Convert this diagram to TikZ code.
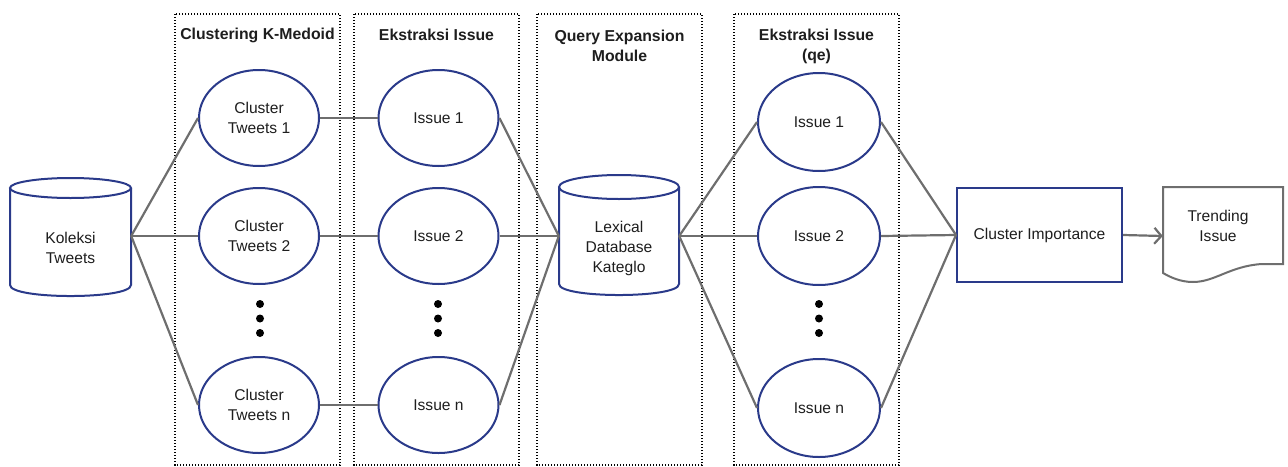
\documentclass[tikz,border=0pt]{standalone}
\usepackage{fontspec}
\setmainfont{Liberation Sans}
\usetikzlibrary{shapes.geometric,arrows.meta}
\definecolor{nodeblue}{RGB}{42,58,138}
\definecolor{linegray}{RGB}{110,110,110}
\definecolor{txtcol}{RGB}{30,30,30}
\tikzset{
  x=1pt, y=-1pt,
  every node/.style={font=\fontsize{15.6}{20}\selectfont, text=txtcol, align=center},
  ell/.style={ellipse, draw=nodeblue, line width=2pt, minimum width=120pt, minimum height=96pt, inner sep=0pt, fill=white},
  conn/.style={draw=linegray, line width=2.2pt},
  grp/.style={draw=black, line width=1.4pt, dash pattern=on 1.4pt off 1.6pt},
  grptitle/.style={font=\bfseries\fontsize{15.8}{20}\selectfont},
  cylbox/.style={draw=none, inner sep=0pt},
  cyl/.style={draw=nodeblue, line width=2pt, fill=white},
  dotmark/.style={fill=black}
}
\begin{document}
\begin{tikzpicture}
\useasboundingbox (0,0) rectangle (1288,466);

% group boxes
\draw[grp] (175,14) rectangle (340,465);
\draw[grp] (354,14) rectangle (519,465);
\draw[grp] (537,14) rectangle (702,465);
\draw[grp] (734,14) rectangle (899,465);
\node[grptitle] (t1) at (257.5,35) {Clustering K-Medoid};
\node[grptitle] (t2) at (436.5,35) {Ekstraksi Issue};
\node[grptitle] (t3) at (619.5,46) {Query Expansion\\Module};
\node[grptitle] (t4) at (816.5,46) {Ekstraksi Issue\\(qe)};

% cylinder Koleksi Tweets
\node[cylbox, minimum width=121pt, minimum height=118pt] (kol) at (70.5,236) {};
\draw[cyl] (10,188) -- (10,285) .. controls (10,299.7) and (131,299.7) .. (131,285) -- (131,188);
\draw[cyl] (70.5,188) ellipse [x radius=60.5, y radius=10];
\node (kolt) at (70.5,248) {Koleksi\\Tweets};

% cylinder Lexical Database
\node[cylbox, minimum width=120pt, minimum height=120pt] (lex) at (619,236) {};
\draw[cyl] (559,187) -- (559,284) .. controls (559,298.7) and (679,298.7) .. (679,284) -- (679,187);
\draw[cyl] (619,187) ellipse [x radius=60, y radius=12];
\node (lext) at (619,248) {Lexical\\Database\\Kateglo};

% ellipses column 1
\node[ell] (c1) at (259,118) {Cluster\\Tweets 1};
\node[ell] (c2) at (259,236) {Cluster\\Tweets 2};
\node[ell] (cn) at (259,405) {Cluster\\Tweets n};
% ellipses column 2
\node[ell] (i1) at (438.5,118) {Issue 1};
\node[ell] (i2) at (438.5,236) {Issue 2};
\node[ell] (in) at (438.5,405) {Issue n};
% ellipses column 4
\node[ell, minimum width=122pt, minimum height=98pt] (q1) at (819,122) {Issue 1};
\node[ell, minimum width=122pt, minimum height=98pt] (q2) at (819,236) {Issue 2};
\node[ell, minimum width=122pt, minimum height=98pt] (qn) at (819,408) {Issue n};

% dots
\foreach \xx in {260,438,819} {
  \fill[dotmark] (\xx,304) circle (4pt);
  \fill[dotmark] (\xx,318.5) circle (4pt);
  \fill[dotmark] (\xx,333) circle (4pt);
}

% cluster importance
\node[draw=nodeblue, line width=2pt, minimum width=165pt, minimum height=94pt, inner sep=0pt] (ci) at (1039.5,235) {Cluster Importance};

% trending issue document
\node[inner sep=0pt, minimum width=120pt, minimum height=96pt] (tr) at (1223,236) {};
\draw[draw=linegray, line width=2pt, fill=white] (1163,187) -- (1283,187) -- (1283,264) -- (1262,264)
  .. controls (1230,266) and (1215,282) .. (1193,282)
  .. controls (1180,282) and (1170,277) .. (1163,273) -- cycle;
\node (trt) at (1218,226) {Trending\\Issue};

% connectors
\draw[conn] (kol.east) -- (c1.west);
\draw[conn] (kol.east) -- (c2.west);
\draw[conn] (kol.east) -- (cn.west);
\draw[conn] (c1.east) -- (i1.west);
\draw[conn] (c2.east) -- (i2.west);
\draw[conn] (cn.east) -- (in.west);
\draw[conn] (i1.east) -- (lex.west);
\draw[conn] (i2.east) -- (lex.west);
\draw[conn] (in.east) -- (lex.west);
\draw[conn] (lex.east) -- (q1.west);
\draw[conn] (lex.east) -- (q2.west);
\draw[conn] (lex.east) -- (qn.west);
\draw[conn] (q1.east) -- (ci.west);
\draw[conn] (q2.east) -- (ci.west);
\draw[conn] (qn.east) -- (ci.west);
\draw[conn, -{Straight Barb[length=7pt, width=16pt]}] (ci.east) -- (tr.west);
\end{tikzpicture}
\end{document}
